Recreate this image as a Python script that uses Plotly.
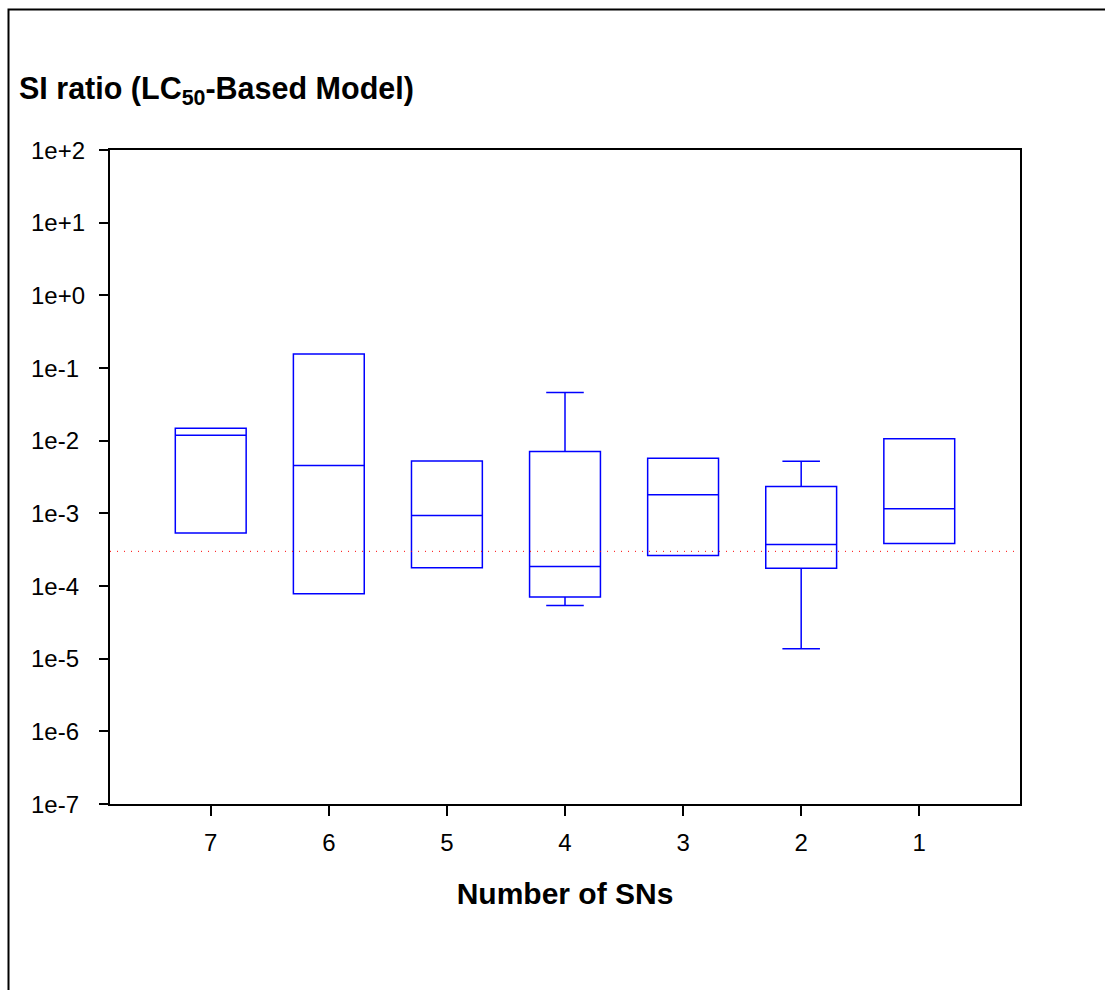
import math
import plotly.graph_objects as go

# Number of SNs (plotted left to right in descending order)
categories = ["7", "6", "5", "4", "3", "2", "1"]

# Box statistics of the SI ratio for each group
upper_whisker = [0.01486, 0.156, 5.27e-3, 0.0459, 5.74e-3, 5.22e-3, 0.0106]
q3_values = [0.01486, 0.156, 5.27e-3, 7.08e-3, 5.74e-3, 2.34e-3, 0.0106]
median_values = [0.0119, 4.55e-3, 9.33e-4, 1.85e-4, 1.80e-3, 3.72e-4, 1.16e-3]
q1_values = [5.35e-4, 7.8e-5, 1.78e-4, 7.03e-5, 2.63e-4, 1.76e-4, 3.84e-4]
lower_whisker = [5.35e-4, 7.8e-5, 1.78e-4, 5.39e-5, 2.63e-4, 1.37e-5, 3.84e-4]

# Reference threshold
threshold = 3.0e-4

# Log-axis ticks
y_tickvals = [1e-7, 1e-6, 1e-5, 1e-4, 1e-3, 1e-2, 1e-1, 1e0, 1e1, 1e2]
y_ticktext = ["1e-7", "1e-6", "1e-5", "1e-4", "1e-3", "1e-2", "1e-1", "1e+0", "1e+1", "1e+2"]

FONT = "Liberation Sans, Arial, Helvetica, sans-serif"
BLUE = "#0000FF"

W, H = 1105, 990
L, R, T, B = 110, 85, 150, 186
plot_w = W - L - R
plot_h = H - T - B


def px_to_paper_x(px):
    return (px - L) / plot_w


def px_to_paper_y(py):
    return (H - B - py) / plot_h


fig = go.Figure()

fig.add_trace(go.Box(
    x=categories,
    q1=q1_values,
    median=median_values,
    q3=q3_values,
    lowerfence=lower_whisker,
    upperfence=upper_whisker,
    width=0.6,
    whiskerwidth=0.53,
    line=dict(color=BLUE, width=1.5),
    fillcolor="rgba(0,0,0,0)",
    boxpoints=False,
    showlegend=False,
    hoverinfo="skip",
))

# Dotted horizontal threshold line
fig.add_hline(y=threshold, line=dict(color="#FF0000", width=1, dash="1px,6px"))

# Outer frame around the figure
fig.add_shape(
    type="rect", xref="paper", yref="paper",
    x0=px_to_paper_x(8.5), x1=px_to_paper_x(1110),
    y0=px_to_paper_y(995), y1=px_to_paper_y(9.5),
    line=dict(color="black", width=2), fillcolor="rgba(0,0,0,0)",
    layer="below",
)

# Chart title
fig.add_annotation(
    text="<b>SI ratio (LC<sub>50</sub>-Based Model)</b>",
    xref="paper", yref="paper",
    x=px_to_paper_x(17), y=px_to_paper_y(69),
    xanchor="left", yanchor="top",
    showarrow=False,
    font=dict(family=FONT, size=30.5, color="black"),
)

# Left-aligned y tick labels
for val, txt in zip(y_tickvals, y_ticktext):
    fig.add_annotation(
        text=txt,
        xref="paper", yref="y",
        x=px_to_paper_x(29), y=math.log10(val),
        xanchor="left", yanchor="middle",
        showarrow=False,
        font=dict(family=FONT, size=24, color="black"),
    )

fig.update_layout(
    width=W, height=H,
    margin=dict(l=L, r=R, t=T, b=B, pad=0),
    paper_bgcolor="white",
    plot_bgcolor="white",
    font=dict(family=FONT, size=24, color="black"),
    showlegend=False,
)

fig.update_xaxes(
    type="category",
    categoryorder="array", categoryarray=categories,
    range=[-0.853, 6.853],
    showline=True, linecolor="black", linewidth=1.5, mirror=True,
    ticks="outside", ticklen=10, tickwidth=1.5, tickcolor="black",
    showgrid=False, zeroline=False,
    tickfont=dict(size=24),
    ticklabelstandoff=6,
    title=dict(text="<b>Number of SNs</b>", font=dict(size=30), standoff=28),
)

fig.update_yaxes(
    type="log",
    range=[-7, 2],
    tickvals=y_tickvals,
    showticklabels=False,
    showline=True, linecolor="black", linewidth=1.5, mirror=True,
    ticks="outside", ticklen=9, tickwidth=1.5, tickcolor="black",
    showgrid=False, zeroline=False,
)

fig.write_html("out.html")
